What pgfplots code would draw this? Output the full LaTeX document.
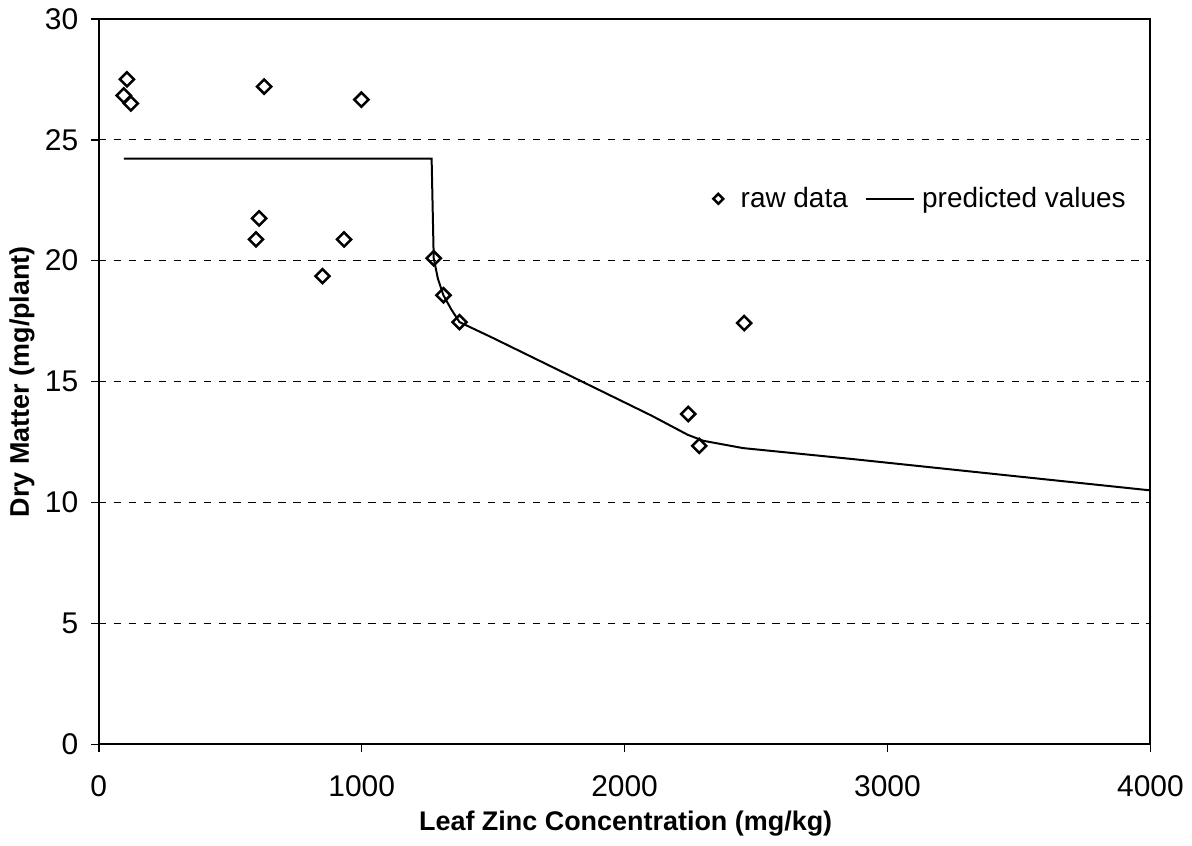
\documentclass[border=0pt]{standalone}
\usepackage{fontspec}
\setmainfont{Liberation Sans}
\usepackage{pgfplots}
\pgfplotsset{compat=1.18}
\pgfplotsset{
  linelegend/.style={legend image code/.code={\draw[##1] (0pt,0pt) -- (19pt,0pt);}},
}
\begin{document}
\begin{tikzpicture}
\begin{axis}[
  name=ax,
  width=421.6pt, height=290.8pt, scale only axis,
  xmin=0, xmax=4000, ymin=0, ymax=30,
  xtick={0,1000,2000,3000,4000},
  ytick={0,5,10,15,20,25,30},
  xtick pos=left, ytick pos=left,
  tick align=outside,
  major tick length=3.2pt,
  axis line style={line width=0.8pt},
  every tick/.style={black, line width=0.6pt},
  ymajorgrids,
  major grid style={dashed, black, line width=0.45pt},
  /pgf/number format/assume math mode=true,
  scaled x ticks=false,
  xticklabel style={/pgf/number format/set thousands separator={}, font=\fontsize{12}{14}\selectfont, yshift=-5.8pt},
  yticklabel style={font=\fontsize{12}{14}\selectfont, xshift=-1.5pt},
  xlabel={\textbf{Leaf Zinc Concentration (mg/kg)}},
  ylabel={\textbf{Dry Matter (mg/plant)}},
  label style={font=\fontsize{10.8}{13}\selectfont},
  xlabel style={at={(axis description cs:0.501,-0.110)}, anchor=center, inner sep=0pt},
  ylabel style={at={(axis description cs:-0.073,0.5)}, anchor=center, inner sep=0pt},
  legend style={draw=none, fill=none, at={(0.784,0.752)}, anchor=center,
    font=\fontsize{11.2}{13}\selectfont,
    /tikz/every even column/.append style={column sep=4pt},
    nodes={inner xsep=3pt}},
  legend columns=2,
]
\addplot[only marks, mark=square, mark size=2pt,
  mark options={rotate=45, line width=1pt, fill=white, draw=black},
  legend image post style={mark size=1.4pt}]
coordinates {
(107,27.5) (95,26.83) (122,26.5) (629,27.2) (999,26.66)
(610,21.75) (598,20.88) (933,20.88) (851,19.36)
(1274,20.1) (1311,18.57) (1372,17.46) (2455,17.42) (2242,13.66) (2284,12.34)
};
\addlegendentry{\hspace{4pt}raw data}
\addplot[black, line width=0.8pt, mark=none, linelegend] coordinates {
(95,24.22) (1266,24.22) (1274,20.1) (1290,19.25) (1311,18.57) (1340,18.0) (1372,17.46)
(1500,16.8) (2101,13.6) (2240,12.8) (2300,12.55) (2450,12.25) (2863,11.8) (3300,11.3) (4000,10.5)
};
\addlegendentry{predicted values}
\end{axis}
\path ([shift={(-39.6pt,7.2pt)}]ax.north west) rectangle ([shift={(15.6pt,-40.4pt)}]ax.south east);
\end{tikzpicture}
\end{document}
